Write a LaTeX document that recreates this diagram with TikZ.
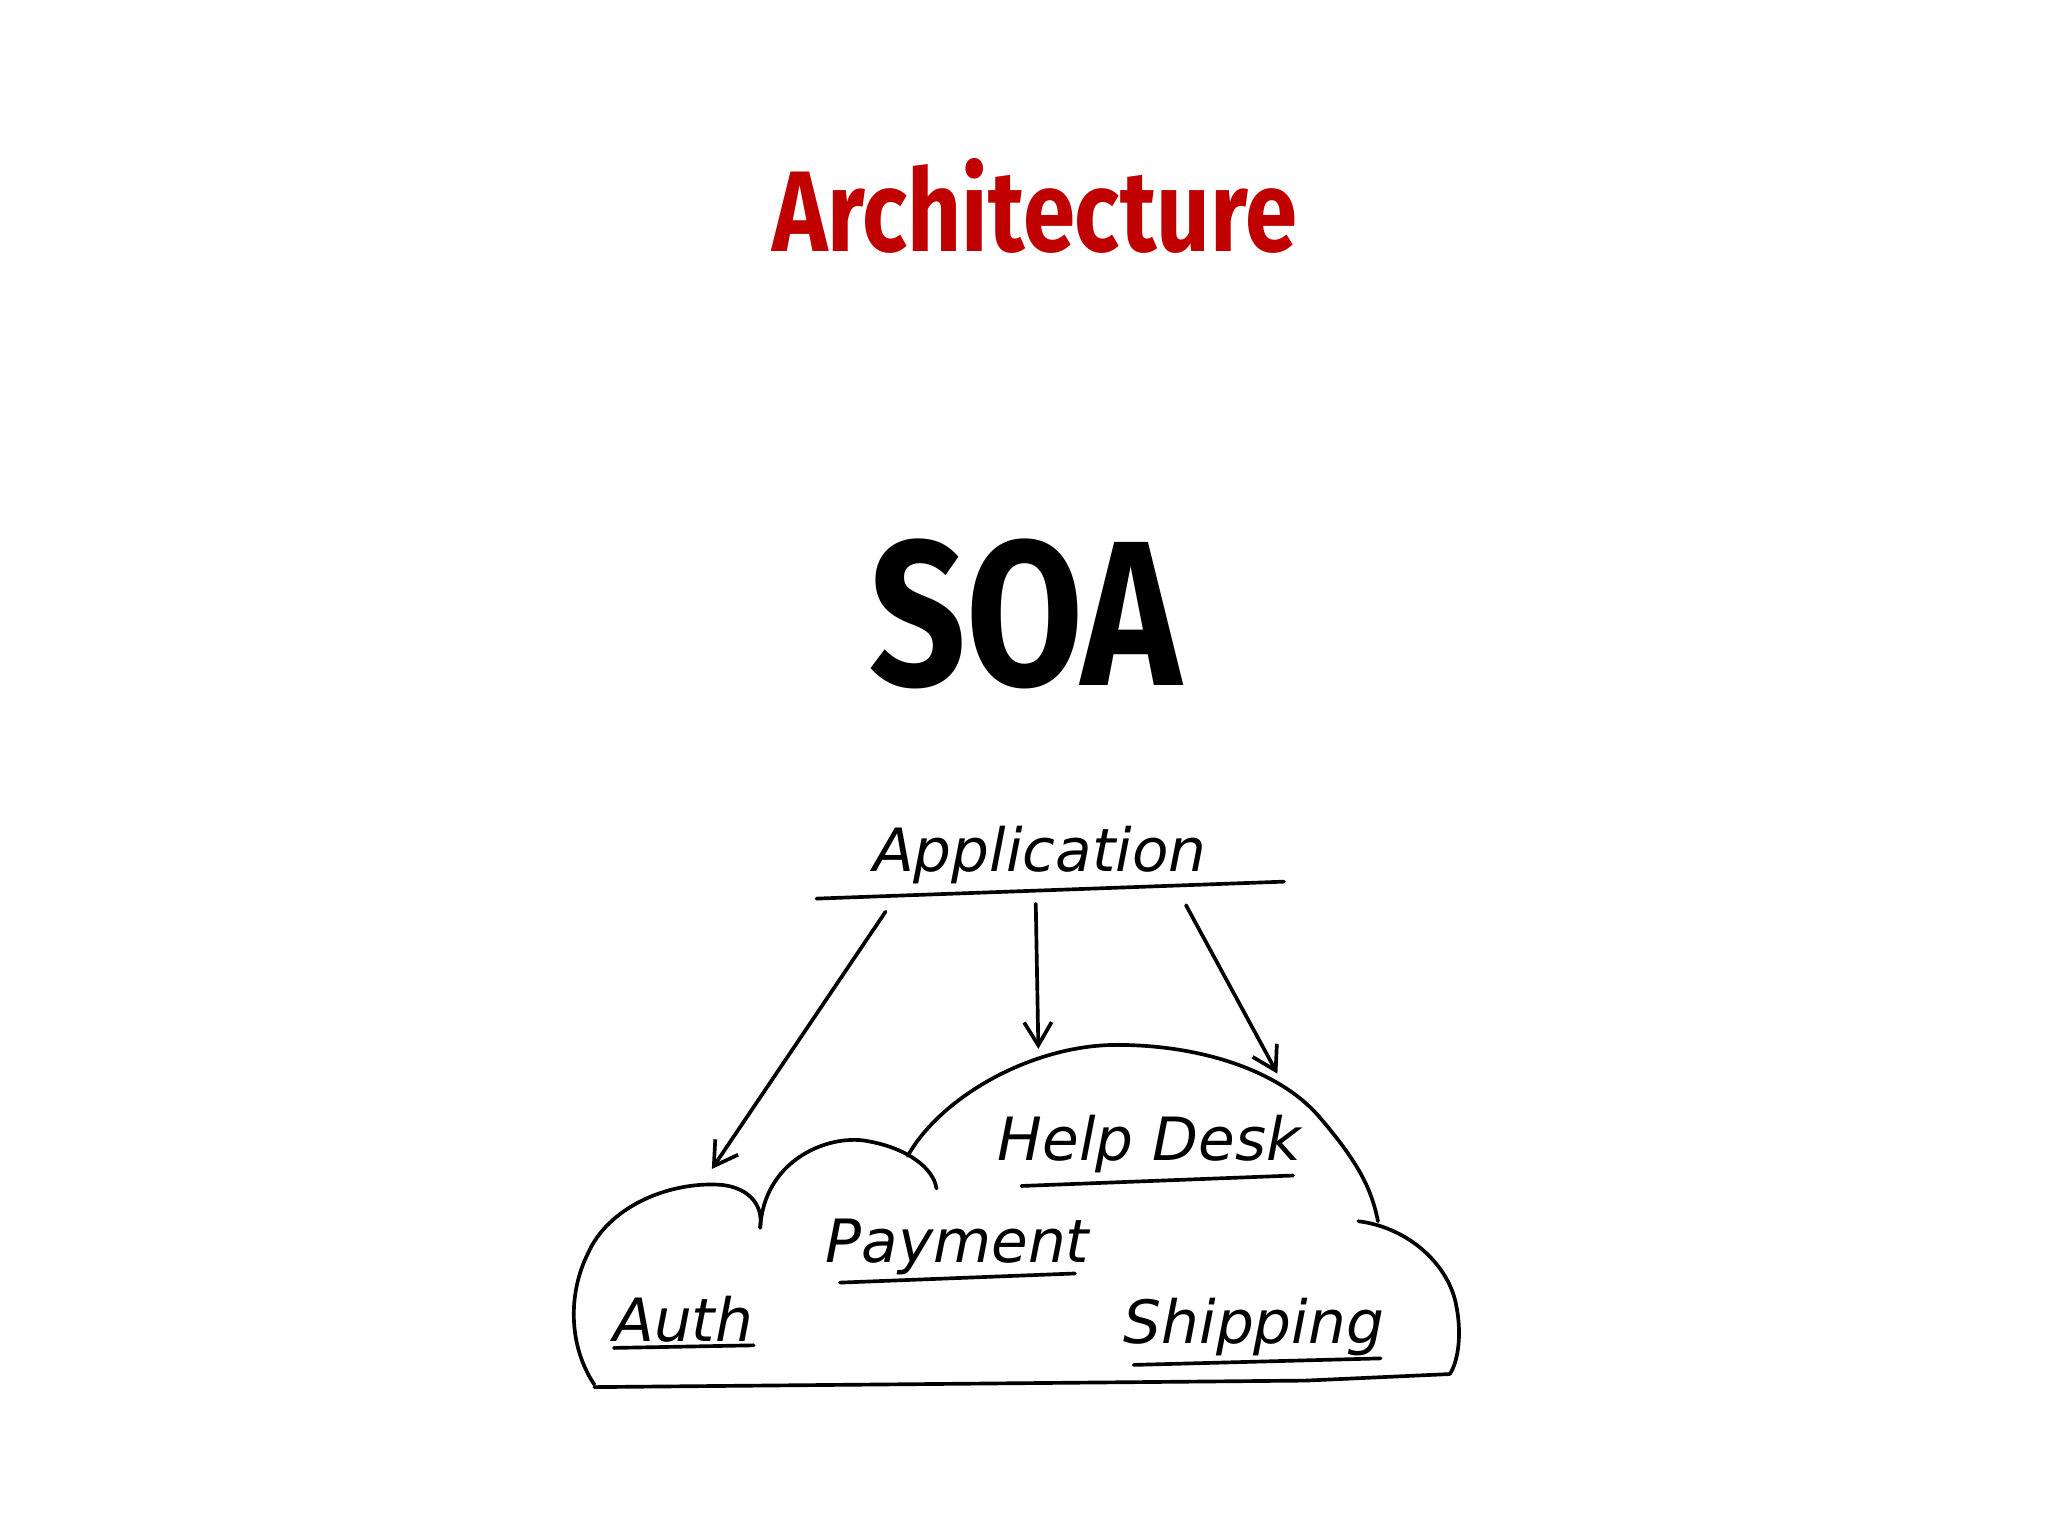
\documentclass[tikz,border=0pt]{standalone}
\usepackage{fontspec}
\setmainfont{Fira Sans}
\newfontfamily\hand{DejaVu Sans}
\usetikzlibrary{arrows.meta}
\definecolor{titlered}{HTML}{C00000}
\begin{document}
\begin{tikzpicture}[x=0.02cm,y=-0.02cm,
  hw/.style={font=\hand\fontsize{26}{28}\selectfont\itshape, inner sep=0pt},
  ink/.style={line width=1.6pt, line cap=round, line join=round},
  arr/.style={ink, -{Straight Barb[length=10pt,width=12pt]}}]
\useasboundingbox (0,0) rectangle (1568,1176);
\node (title) at (792,158) {\fontsize{50}{56}\selectfont\bfseries\color{titlered}\scalebox{0.82}[1]{Architecture}};
\node (soa) at (785,470) {\fontsize{90}{100}\selectfont\bfseries\scalebox{0.82}[1]{SOA}};
\node[hw] (app) at (796,655) {Application};
\draw[ink] (625,688) -- (983,675);
\coordinate (a1) at (678,698); \coordinate (a1e) at (545,895);
\coordinate (a2) at (793,692); \coordinate (a2e) at (795,803);
\coordinate (a3) at (908,693); \coordinate (a3e) at (978,822);
\draw[arr] (a1) -- (a1e);
\draw[arr] (a2) -- (a2e);
\draw[arr] (a3) -- (a3e);
% cloud
\draw[ink] (455,1060) .. controls (435,1030) and (435,990) .. (450,960)
  .. controls (465,925) and (510,905) .. (550,907)
  .. controls (570,908) and (585,920) .. (582,940);
\draw[ink] (582,940) .. controls (585,890) and (630,870) .. (660,873)
  .. controls (695,878) and (715,895) .. (717,910);
\draw[ink] (695,885) .. controls (720,840) and (790,800) .. (855,800)
  .. controls (920,800) and (980,820) .. (1010,855)
  .. controls (1040,890) and (1050,910) .. (1055,935);
\draw[ink] (1040,935) .. controls (1080,940) and (1110,970) .. (1115,1000)
  .. controls (1120,1025) and (1115,1045) .. (1110,1052);
\draw[ink] (1110,1052) -- (1000,1057) -- (455,1062);
\node[hw] (help) at (880,876) {Help Desk};
\draw[ink] (782,908) -- (990,900);
\node[hw] (pay) at (733,955) {Payment};
\draw[ink] (643,982) -- (823,975);
\node[hw] (auth) at (523,1010) {Auth};
\draw[ink] (470,1032) -- (577,1030);
\node[hw] (ship) at (960,1016) {Shipping};
\draw[ink] (868,1045) -- (1057,1040);
\end{tikzpicture}
\end{document}
